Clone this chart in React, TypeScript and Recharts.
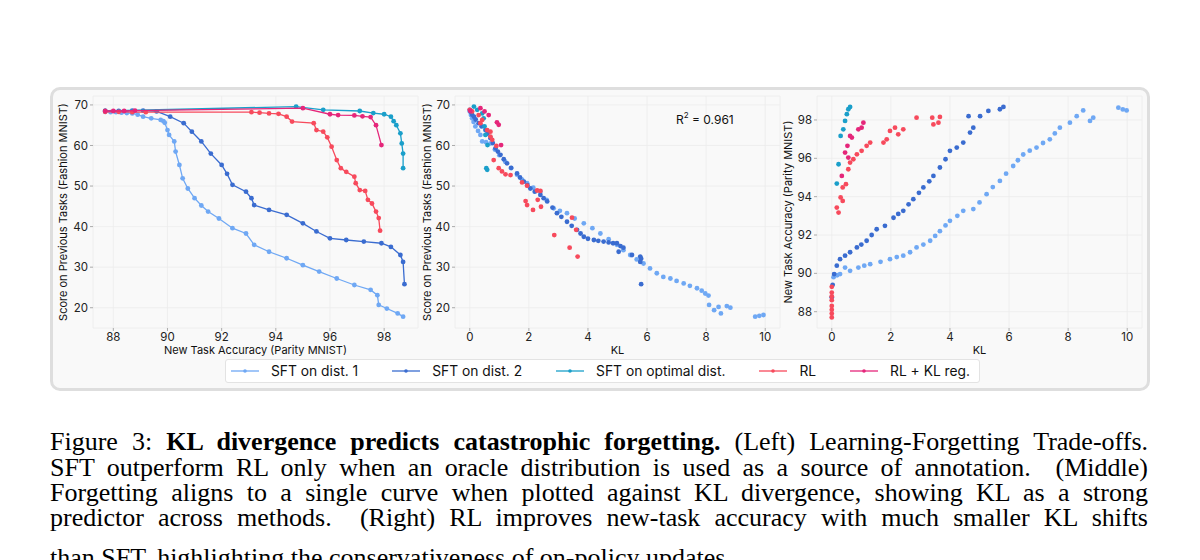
import { ScatterChart, Scatter, XAxis, YAxis, CartesianGrid } from 'recharts';

// colours per method
const C_SFT1 = '#6fa8f4';
const C_SFT2 = '#3a6cd0';
const C_OPT = '#1a9fca';
const C_RL = '#f74a5c';
const C_KL = '#e5267a';

// ---- left panel: new task accuracy vs score on previous tasks ----
const sft1Trade = [[87.7,68.3],[87.9,68.2],[88.1,68.2],[88.3,68.1],[88.5,68.0],[88.7,67.9],[88.9,67.6],[89.1,67.1],[89.4,66.7],[89.75,66.3],[89.85,66.0],[89.9,65.6],[90.0,63.8],[90.06,62.6],[90.25,61],[90.3,58.5],[90.44,55.2],[90.56,51.9],[90.75,49.4],[91,47],[91.25,45.2],[91.5,43.7],[91.9,42],[92.4,39.6],[92.9,38.3],[93.2,35.5],[93.75,33.8],[94.4,32.2],[95,30.5],[95.6,28.9],[96.25,27.2],[96.9,25.6],[97.5,24.4],[97.75,23.1],[97.8,20.7],[98.1,19.8],[98.5,18.6],[98.7,17.8]];
const sft2Trade = [[87.7,68.5],[88.2,68.5],[88.7,68.6],[89.1,68.6],[89.6,68.4],[90.1,67.1],[90.6,65.5],[90.9,63.4],[91.25,61],[91.6,58],[92,55.2],[92.2,53],[92.4,50.3],[92.9,48.6],[93.1,47],[93.2,45.3],[93.75,44.1],[94.4,42.9],[95,40.8],[95.5,38.8],[96,37.1],[96.6,36.7],[97.25,36.3],[97.9,35.9],[98.25,35.0],[98.6,33],[98.7,31.3],[98.75,25.8]];
const optTrade = [[87.7,68.5],[94.75,69.6],[95.75,68.8],[97.1,68.5],[97.6,68.0],[98,67.7],[98.25,67.1],[98.35,66],[98.45,65],[98.6,63],[98.65,60.5],[98.7,58],[98.7,54.4]];
const rlTrade = [[87.7,68.3],[88.2,68.3],[88.7,68.2],[89.2,68.2],[93.1,68.2],[93.4,68.1],[93.75,67.9],[94.1,67.8],[94.4,67.1],[94.6,65.9],[95.4,65.5],[95.5,63.8],[95.75,63.4],[95.9,62],[96.06,59.7],[96.25,56.4],[96.4,54.4],[96.6,53.5],[96.9,52.3],[96.95,50.7],[97.1,49],[97.3,48.8],[97.4,46.6],[97.55,45.7],[97.7,43.7],[97.8,42.1],[97.85,39]];
const klTrade = [[87.7,68.5],[88.0,68.5],[88.4,68.5],[88.8,68.6],[95,69.2],[96,67.7],[96.3,67.5],[96.9,67.4],[97.2,67.2],[97.5,67],[97.7,65],[97.9,60.1]];

// ---- middle panel: KL vs score on previous tasks ----
const sft1Forget = [[0,68.4],[0.04,67.5],[0.08,66.7],[0.13,65.8],[0.19,64.7],[0.28,63.6],[0.36,62.6],[0.42,61],[0.55,60.8],[0.7,60.5],[0.85,59],[1.0,57.6],[1.2,56],[1.4,54.4],[1.6,52.8],[1.77,51.6],[1.94,50.7],[2.15,49.6],[2.39,48.6],[2.6,46.6],[2.84,44.5],[3.05,43.9],[3.29,43.3],[3.55,42],[3.86,40.8],[4.15,39.6],[4.42,38.3],[4.7,36.9],[4.98,35.5],[5.2,34.2],[5.43,33],[5.65,31.9],[5.88,30.9],[6.1,29.7],[6.33,28.5],[6.55,27.6],[6.79,27.2],[7.0,26.6],[7.24,26],[7.45,25.4],[7.69,24.8],[7.85,24.2],[7.97,23.5],[8.08,23],[8.1,20.7],[8.27,19.4],[8.42,20.2],[8.5,18.6],[8.7,20.4],[8.82,20],[9.66,17.8],[9.8,18.0],[9.94,18.2]];
const sft2Forget = [[0,68.8],[0.03,68.3],[0.08,67.6],[0.14,67.1],[0.2,66.4],[0.3,65.5],[0.4,64.7],[0.53,63.8],[0.6,62.9],[0.7,61.8],[0.78,60.6],[0.87,59.3],[0.95,58.5],[1.04,57.7],[1.15,56.6],[1.26,55.6],[1.4,54.5],[1.6,53.1],[1.7,52.1],[1.83,51.1],[1.95,50.2],[2.05,49.4],[2.2,48.6],[2.39,47.8],[2.5,47],[2.62,46.2],[2.8,44.7],[2.95,43.3],[3.1,42.4],[3.29,41.2],[3.45,40.2],[3.63,39.2],[3.75,38.3],[3.86,37.5],[4.0,37.0],[4.2,36.7],[4.35,36.5],[4.53,36.3],[4.7,36.1],[4.85,35.9],[4.98,35.9],[5.1,35.2],[5.2,34.8],[5.04,33.8],[5.49,33],[5.77,32.6],[5.8,32.1],[5.77,31.3],[5.8,25.8]];
const optForget = [[0.14,69.6],[0.25,68.8],[0.42,67.9],[0.47,66.7],[0.5,64.7],[0.53,62.6],[0.6,60.1],[0.59,54],[0.56,54.4]];
const rlForget = [[0,68.8],[0.08,68.4],[0.3,67.5],[0.42,66.3],[0.36,65.5],[0.59,63.8],[0.7,63.4],[0.7,62.2],[0.76,61.4],[0.9,59.9],[0.81,56.4],[0.98,54.4],[1.09,53.6],[1.21,52.9],[1.38,52.7],[1.77,50.9],[1.94,50.1],[1.89,46.3],[1.94,45.3],[2.14,44.1],[2.28,48.9],[2.39,48.8],[2.3,46.6],[2.41,44.9],[2.86,37.9],[3.38,34.8],[3.46,42.2],[3.6,39.2],[3.65,32.6]];
const klForget = [[0.02,68.5],[0.36,69.2],[0.5,68.4],[0.64,67.5],[0.92,65.7],[0.98,65.1],[1.06,60.1]];

// ---- right panel: KL vs new task accuracy ----
const sft1Acc = [[0.06,89.8],[0.18,89.9],[0.28,89.96],[0.45,90.3],[0.62,90.13],[0.9,90.3],[1.1,90.4],[1.3,90.48],[1.65,90.6],[1.97,90.74],[2.2,90.85],[2.42,90.92],[2.65,91.1],[2.87,91.35],[3.1,91.5],[3.33,91.7],[3.5,91.95],[3.66,92.2],[3.85,92.5],[4.0,92.74],[4.25,93.0],[4.45,93.26],[4.79,93.35],[5.0,93.7],[5.24,94.13],[5.45,94.5],[5.69,94.82],[5.9,95.2],[6.14,95.6],[6.3,95.9],[6.48,96.2],[6.7,96.4],[6.93,96.56],[7.15,96.8],[7.38,96.99],[7.55,97.3],[7.72,97.6],[8.06,97.86],[8.29,98.2],[8.51,98.5],[8.74,97.95],[8.85,98.12],[9.7,98.64],[9.85,98.55],[9.98,98.5]];
const sft2Acc = [[0,88.75],[0.03,89.4],[0.08,89.96],[0.17,90.4],[0.28,90.74],[0.45,90.92],[0.62,91.1],[0.85,91.35],[1.0,91.5],[1.18,91.7],[1.35,92.0],[1.52,92.3],[1.8,92.48],[2.09,92.9],[2.25,93.1],[2.42,93.26],[2.6,93.6],[2.76,93.87],[2.95,94.2],[3.1,94.48],[3.3,94.8],[3.44,95.08],[3.66,95.52],[3.85,95.95],[4.0,96.39],[4.23,96.56],[4.45,96.82],[4.68,97.34],[4.79,97.6],[4.63,98.2],[5.02,98.2],[5.3,98.47],[5.69,98.56],[5.81,98.68]];
const optAcc = [[0.17,94.68],[0.23,95.69],[0.3,97.17],[0.39,97.51],[0.45,97.95],[0.51,98.3],[0.56,98.56],[0.62,98.68]];
const rlAcc = [[0,87.7],[0,87.9],[0,88.1],[0,88.3],[0,88.6],[0,88.8],[0,89.0],[0,89.3],[0.17,93.43],[0.23,93.17],[0.3,93.96],[0.37,93.78],[0.37,94.48],[0.48,94.65],[0.56,95.43],[0.62,95.78],[0.73,95.95],[0.85,96.21],[1.01,96.39],[1.18,96.65],[1.3,96.82],[1.75,96.82],[1.86,96.99],[1.97,97.43],[2.14,97.6],[2.25,97.25],[2.42,97.51],[2.87,98.12],[3.4,98.12],[3.44,97.77],[3.66,98.16],[3.61,97.86]];
const klAcc = [[0.34,95.08],[0.45,96.3],[0.53,96.65],[0.56,96.04],[0.62,97.17],[0.68,97.08],[0.9,97.51],[1.01,97.6],[1.07,97.86]];

const accTicks = [88, 90, 92, 94, 96, 98];
const scoreTicks = [20, 30, 40, 50, 60, 70];
const klTicks = [0, 2, 4, 6, 8, 10];

const legendItems = [
  { name: 'SFT on dist. 1', color: C_SFT1 },
  { name: 'SFT on dist. 2', color: C_SFT2 },
  { name: 'SFT on optimal dist.', color: C_OPT },
  { name: 'RL', color: C_RL },
  { name: 'RL + KL reg.', color: C_KL },
];

const captionLines = [
  'SFT outperform RL only when an oracle distribution is used as a source of annotation.  (Middle)',
  'Forgetting aligns to a single curve when plotted against KL divergence, showing KL as a strong',
  'predictor across methods.  (Right) RL improves new-task accuracy with much smaller KL shifts',
];

const FONT = 'Inter, "Noto Sans", sans-serif';
const toPts = (pairs: number[][]) => pairs.map(([x, y]) => ({ x, y }));

const dot = (color: string) => (props: any) => (
  <circle cx={props.cx} cy={props.cy} r={2.4} fill={color} />
);

const tickStyle = { fontSize: 11.5, fill: '#222', fontFamily: FONT };
const labelStyle = { fontSize: 11, fill: '#111', fontFamily: FONT, textAnchor: 'middle' as const };

interface PanelProps {
  left: number;
  xDomain: [number, number];
  yDomain: [number, number];
  xTicks: number[];
  yTicks: number[];
  xLabel: string;
  yLabel: string;
  yLabelDx: number;
  series: { data: number[][]; color: string; line?: boolean }[];
}

function Panel({ left, xDomain, yDomain, xTicks, yTicks, xLabel, yLabel, yLabelDx, series }: PanelProps) {
  return (
    <div style={{ position: 'absolute', left, top: 88 }}>
      <ScatterChart width={367} height={270} margin={{ top: 8, right: 2, bottom: 4, left: 0 }}>
        <CartesianGrid stroke="#ececec" strokeWidth={0.8} />
        <XAxis
          type="number"
          dataKey="x"
          domain={xDomain}
          ticks={xTicks}
          allowDataOverflow
          axisLine={false}
          tickLine={{ stroke: '#aaa' }}
          tickSize={3}
          tickMargin={2}
          tick={tickStyle}
          height={26}
          label={{ value: xLabel, position: 'insideBottom', offset: 0, style: labelStyle }}
        />
        <YAxis
          type="number"
          dataKey="y"
          domain={yDomain}
          ticks={yTicks}
          allowDataOverflow
          axisLine={false}
          tickLine={{ stroke: '#aaa' }}
          tickSize={3}
          tickMargin={2}
          tick={tickStyle}
          width={40}
          label={{ value: yLabel, angle: -90, position: 'center', dx: yLabelDx, style: labelStyle }}
        />
        {series.map((s, i) => (
          <Scatter
            key={i}
            data={toPts(s.data)}
            fill={s.color}
            shape={dot(s.color)}
            line={s.line ? { stroke: s.color, strokeWidth: 1.3 } : false}
            lineType="joint"
            isAnimationActive={false}
          />
        ))}
      </ScatterChart>
    </div>
  );
}

export default function App() {
  return (
    <div style={{ position: 'fixed', left: 0, top: 0, width: 1200, height: 560, overflow: 'hidden', background: '#fff' }}>
      <div
        style={{
          position: 'absolute', left: 50, top: 87, width: 1094, height: 298,
          border: '3px solid #dedede', borderRadius: 10, background: '#f9f9f9',
        }}
      />
      <Panel
        left={53}
        xDomain={[87.25, 99.25]}
        yDomain={[15, 72.2]}
        xTicks={accTicks}
        yTicks={scoreTicks}
        xLabel="New Task Accuracy (Parity MNIST)"
        yLabel="Score on Previous Tasks (Fashion MNIST)"
        yLabelDx={-10}
        series={[
          { data: sft1Trade, color: C_SFT1, line: true },
          { data: sft2Trade, color: C_SFT2, line: true },
          { data: optTrade, color: C_OPT, line: true },
          { data: rlTrade, color: C_RL, line: true },
          { data: klTrade, color: C_KL, line: true },
        ]}
      />
      <Panel
        left={415}
        xDomain={[-0.5, 10.5]}
        yDomain={[15, 72.2]}
        xTicks={klTicks}
        yTicks={scoreTicks}
        xLabel="KL"
        yLabel="Score on Previous Tasks (Fashion MNIST)"
        yLabelDx={-8}
        series={[
          { data: sft1Forget, color: C_SFT1 },
          { data: sft2Forget, color: C_SFT2 },
          { data: optForget, color: C_OPT },
          { data: rlForget, color: C_RL },
          { data: klForget, color: C_KL },
        ]}
      />
      <Panel
        left={777}
        xDomain={[-0.5, 10.5]}
        yDomain={[87.15, 99.25]}
        xTicks={klTicks}
        yTicks={accTicks}
        xLabel="KL"
        yLabel="New Task Accuracy (Parity MNIST)"
        yLabelDx={-9}
        series={[
          { data: sft1Acc, color: C_SFT1 },
          { data: sft2Acc, color: C_SFT2 },
          { data: optAcc, color: C_OPT },
          { data: rlAcc, color: C_RL },
          { data: klAcc, color: C_KL },
        ]}
      />
      <div style={{ position: 'absolute', left: 676, top: 112, fontFamily: FONT, fontSize: 12, color: '#111', whiteSpace: 'nowrap' }}>
        R<sup style={{ fontSize: 8, verticalAlign: 'top', position: 'relative', top: -2 }}>2</sup> = 0.961
      </div>
      <div
        style={{
          position: 'absolute', left: 225, top: 359, width: 748, height: 22,
          border: '1px solid #e3e3e3', borderRadius: 3, background: '#fff',
          display: 'flex', alignItems: 'center', paddingLeft: 5, fontFamily: FONT, fontSize: 13.8, color: '#111',
        }}
      >
        {legendItems.map((it) => (
          <div key={it.name} style={{ display: 'flex', alignItems: 'center', marginRight: 34 }}>
            <svg width={28} height={6} style={{ marginRight: 12 }}>
              <line x1={0} y1={3} x2={28} y2={3} stroke={it.color} strokeWidth={1.3} />
              <circle cx={14} cy={3} r={1.8} fill={it.color} />
            </svg>
            <span style={{ whiteSpace: 'nowrap' }}>{it.name}</span>
          </div>
        ))}
      </div>
      <div style={{ position: 'absolute', left: 50, top: 429.3, width: 1098, fontFamily: '"Liberation Serif", "Times New Roman", serif', fontSize: 26, lineHeight: '25.3px', color: '#000' }}>
        <div style={{ textAlign: 'justify', textAlignLast: 'justify' }}>
          Figure 3: <b>KL divergence predicts catastrophic forgetting.</b> (Left) Learning-Forgetting Trade-offs.
        </div>
        {captionLines.map((l) => (
          <div key={l} style={{ textAlign: 'justify', textAlignLast: 'justify', whiteSpace: 'pre-wrap' }}>{l}</div>
        ))}
        <div style={{ marginTop: 15 }}>than SFT, highlighting the conservativeness of on-policy updates.</div>
      </div>
    </div>
  );
}
